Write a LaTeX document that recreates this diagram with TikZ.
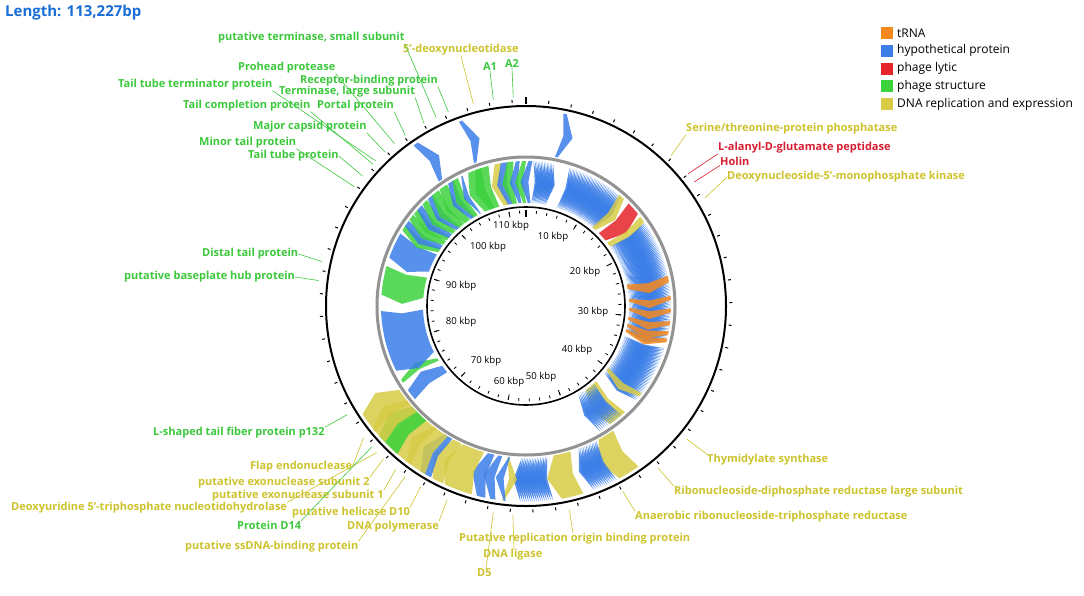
\documentclass[tikz,border=0pt]{standalone}
\usepackage{fontspec}
\setmainfont{Open Sans}
\definecolor{gblue}{RGB}{58,126,232}
\definecolor{ggreen}{RGB}{60,210,60}
\definecolor{gyellow}{RGB}{216,204,70}
\definecolor{gorange}{RGB}{245,137,31}
\definecolor{gred}{RGB}{230,36,42}
\definecolor{tgreen}{RGB}{60,200,60}
\definecolor{tyellow}{RGB}{205,195,45}
\definecolor{tred}{RGB}{215,30,50}
\definecolor{tblue}{RGB}{25,110,215}
\newcommand\gene[5]{%
 \pgfmathsetmacro\gT{#2}\pgfmathsetmacro\gH{#3}%
 \pgfmathsetmacro\gS{\gH>\gT ? 1 : -1}%
 \pgfmathsetmacro\gL{abs(\gH-\gT)}%
 \pgfmathsetmacro\gD{min(3.5,0.999*\gL)}%
 \pgfmathsetmacro\gN{0.4*min(3.5,\gL)}%
 \pgfmathsetmacro\gM{(#4+#5)/2}%
 \pgfmathsetmacro\aT{90-\gT}\pgfmathsetmacro\aH{90-\gH}%
 \pgfmathsetmacro\aN{90-\gT-\gS*\gN}\pgfmathsetmacro\aSh{90-\gH+\gS*\gD}%
 \fill[#1,fill opacity=0.85] (\aT:#5) -- (\aN:\gM) -- (\aT:#4) arc[start angle=\aT,end angle=\aSh,radius=#4] -- (\aH:\gM) -- (\aSh:#5) arc[start angle=\aSh,end angle=\aT,radius=#5] -- cycle;}
\newcommand\ig[3]{\gene{#1}{#2}{#3}{103}{145}}
\newcommand\og[3]{\gene{#1}{#2}{#3}{152}{196}}
\begin{document}
\begin{tikzpicture}[x=1pt,y=1pt,
  lab/.style={font=\fontsize{11}{12}\selectfont\bfseries, inner sep=0pt, anchor=west},
  gl/.style={lab, text=tgreen},
  yl/.style={lab, text=tyellow},
  rl/.style={lab, text=tred},
  gline/.style={draw=tgreen, line width=0.6pt},
  yline/.style={draw=tyellow, line width=0.6pt},
  rline/.style={draw=tred, line width=0.6pt},
  kbp/.style={font=\fontsize{9.6}{11}\selectfont, inner sep=0pt},
  legtext/.style={font=\fontsize{12}{13}\selectfont, inner sep=0pt, anchor=west},
  legbox/.style={minimum size=12pt, inner sep=0pt}]
\useasboundingbox (0,0) rectangle (1084,-595);
\fill[white] (0,0) rectangle (1084,-595);
\node[lab, font=\fontsize{15}{16}\selectfont\bfseries, text=tblue] (title) at (5,-13) {Length: 113,227bp};
% legend
\foreach \c/\t [count=\i] in {gorange/tRNA, gblue/hypothetical protein, gred/phage lytic, ggreen/phage structure, gyellow/DNA replication and expression}{
  \node[legbox, fill=\c] (lb\i) at (887,{-33-17.8*(\i-1)}) {};
  \node[legtext] (lt\i) at (897,{-33-17.8*(\i-1)}) {\t};
}
\begin{scope}[shift={(526,-306)}]
% ---------- inner track genes
\ig{gyellow}{-10}{-16}
\ig{gblue}{-7.5}{-13.5}
\ig{ggreen}{-5}{-11}
\ig{gblue}{-2.5}{-7.5}
\ig{ggreen}{0}{-5}
\ig{gblue}{2.5}{-2.5}
\foreach \x in {3,3.6,...,11.4}{\ig{gblue}{\x}{\x+2.6}}
\foreach \x in {17.5,18.1,...,41.5}{\ig{gblue}{\x}{\x+2.6}}
\ig{gyellow}{40}{46}
\ig{gred}{45}{54}
\ig{gyellow}{52}{58}
\foreach \x in {55,55.6,...,104.5}{\ig{gblue}{\x}{\x+2.6}}
\ig{gorange}{78}{84}
\ig{gorange}{86}{91}
\ig{gorange}{91}{96}
\ig{gorange}{96}{101}
\ig{gorange}{100}{105}
\ig{gorange}{103}{108}
\foreach \x in {107,107.6,...,131}{\ig{gblue}{\x}{\x+2.6}}
\ig{gyellow}{127}{132}
\ig{gyellow}{137}{148}
\foreach \x in {139,139.8,...,149.5}{\ig{gblue}{\x}{\x+2.6}}
% left side inner
\ig{gblue}{230}{238}
\ig{ggreen}{238}{243}
\ig{gblue}{268}{240}
\ig{ggreen}{286}{271}
\ig{gblue}{300}{286}
\ig{ggreen}{304}{298}
\ig{gblue}{306}{300}
\ig{ggreen}{309}{303}
\ig{ggreen}{312}{306}
\ig{gblue}{314}{308}
\ig{ggreen}{317}{311}
\ig{gblue}{320}{314}
\ig{ggreen}{323}{316}
\ig{ggreen}{327}{320}
\ig{gblue}{330}{324}
\ig{ggreen}{332}{326}
\ig{gblue}{334}{330}
\ig{ggreen}{342}{333}
\ig{ggreen}{345}{336}
% ---------- outer track genes
\og{gblue}{325}{330}
\og{gblue}{340}{344.5}
\og{gblue}{11}{15.5}
\og{gyellow}{145}{155}
\foreach \x in {152.5,153.1,...,160}{\og{gblue}{\x}{\x+2.6}}
\og{gyellow}{163}{173}
\foreach \x in {172,172.6,...,182}{\og{gblue}{\x}{\x+2.6}}
\og{gyellow}{187}{183}
\og{gblue}{186}{190}
\og{gblue}{189}{194}
\og{gblue}{192}{198}
\og{gyellow}{196}{208}
\og{gyellow}{205}{212}
\og{gblue}{209}{216}
\og{gyellow}{211}{221}
\og{gyellow}{216}{229}
\og{ggreen}{221}{232}
\og{gyellow}{226}{235}
\og{gyellow}{230}{240}
% ---------- circles
\draw[line width=1.6pt] (0,0) circle[radius=99];
\draw[gray!85, line width=3pt] (0,0) circle[radius=149];
\draw[line width=2pt] (0,0) circle[radius=200];
% outer ticks
\foreach \k in {1,...,56}{\draw[line width=1pt] ({90-\k*6.3589}:203.5) -- ({90-\k*6.3589}:206.5);}
\draw[line width=1.5pt] (90:202) -- (90:209);
% inner ticks
\foreach \k in {1,...,56}{\draw[line width=0.8pt] ({90-\k*6.3589}:95.5) -- ({90-\k*6.3589}:92.5);}
\foreach \k in {5,10,...,55}{\draw[line width=0.8pt] ({90-\k*6.3589}:95.5) -- ({90-\k*6.3589}:90);}
\draw[line width=1.5pt] (90:96) -- (90:89);
% ring end points for leader lines
\foreach \n/\t in {e1/334.5,e2/345.4,e3/351,e4/356.5,e5/321,e6/338.2,e7/314,e8/330.8,e9/312.8,e10/324.7,e11/317.5,e12/304.8,e13/308.5,
  e14/44,e15/50.8,e16/53.6,e17/58.9,e18/129.6,e19/140.8,e20/152.4,e21/168,e22/183.6,e23/189,e24/202.2,e25/210.2,e26/218.6,e27/223,
  e28/231,e29/225.5,e30/227.6,e31/215.3,e32/238.7,e33/282.3,e34/277}{\coordinate (\n) at ({90-\t}:209);}
\end{scope}
% kbp labels
\node[kbp] (k10) at (553,-237) {10 kbp};
\node[kbp] (k20) at (585,-272) {20 kbp};
\node[kbp] (k30) at (593,-312) {30 kbp};
\node[kbp] (k40) at (577,-350) {40 kbp};
\node[kbp] (k50) at (541,-377) {50 kbp};
\node[kbp] (k60) at (509,-382) {60 kbp};
\node[kbp] (k70) at (486,-361) {70 kbp};
\node[kbp] (k80) at (461,-322) {80 kbp};
\node[kbp] (k90) at (461,-286) {90 kbp};
\node[kbp] (k100) at (488,-247) {100 kbp};
\node[kbp] (k110) at (511,-226) {110 kbp};
% ---------- labels
\node[gl] (l1) at (218,-38) {putative terminase, small subunit};
\node[yl] (l2) at (403,-50) {5'-deoxynucleotidase};
\node[gl, anchor=center] (l3) at (490,-67) {A1};
\node[gl, anchor=center] (l4) at (512,-64) {A2};
\node[gl] (l5) at (238,-68) {Prohead protease};
\node[gl] (l6) at (300,-81) {Receptor-binding protein};
\node[gl] (l7) at (118,-85) {Tail tube terminator protein};
\node[gl] (l8) at (279,-92) {Terminase, large subunit};
\node[gl] (l9) at (183,-106) {Tail completion protein};
\node[gl] (l10) at (317,-106) {Portal protein};
\node[gl] (l11) at (253,-127) {Major capsid protein};
\node[gl] (l12) at (199,-143) {Minor tail protein};
\node[gl] (l13) at (248,-156) {Tail tube protein};
\node[yl] (l14) at (686,-129) {Serine/threonine-protein phosphatase};
\node[rl] (l15) at (718,-148) {L-alanyl-D-glutamate peptidase};
\node[rl] (l16) at (720,-161) {Holin};
\node[yl] (l17) at (727,-177) {Deoxynucleoside-5'-monophosphate kinase};
\node[yl] (l18) at (707,-460) {Thymidylate synthase};
\node[yl] (l19) at (674,-492) {Ribonucleoside-diphosphate reductase large subunit};
\node[yl] (l20) at (635,-517) {Anaerobic ribonucleoside-triphosphate reductase};
\node[yl] (l21) at (459,-539) {Putative replication origin binding protein};
\node[yl] (l22) at (483,-555) {DNA ligase};
\node[yl] (l23) at (477,-573) {D5};
\node[yl] (l24) at (347,-527) {DNA polymerase};
\node[yl] (l25) at (292,-513) {putative helicase D10};
\node[yl] (l26) at (212,-496) {putative exonuclease subunit 1};
\node[yl] (l27) at (198,-483) {putative exonuclease subunit 2};
\node[yl] (l28) at (250,-467) {Flap endonuclease};
\node[yl] (l29) at (11,-508) {Deoxyuridine 5'-triphosphate nucleotidohydrolase};
\node[gl] (l30) at (237,-525) {Protein D14};
\node[yl] (l31) at (185,-547) {putative ssDNA-binding protein};
\node[gl] (l32) at (153,-433) {L-shaped tail fiber protein p132};
\node[gl] (l33) at (202,-254) {Distal tail protein};
\node[gl] (l34) at (124,-277) {putative baseplate hub protein};
% ---------- leader lines
\draw[gline] (l1.south east) -- (e1);
\draw[yline] (l2.south) -- (e2);
\draw[gline] (l3.south) -- (e3);
\draw[gline] (l4.south) -- (e4);
\draw[gline] (l5.south east) -- (e5);
\draw[gline] (l6.south east) -- (e6);
\draw[gline] (l7.south east) -- (e7);
\draw[gline] (l8.south east) -- (e8);
\draw[gline] (l9.south east) -- (e9);
\draw[gline] (l10.south east) -- (e10);
\draw[gline] (l11.south east) -- (e11);
\draw[gline] (l12.south east) -- (e12);
\draw[gline] (l13.east) -- (e13);
\draw[yline] (l14.south west) -- (e14);
\draw[rline] (l15.south west) -- (e15);
\draw[rline] (l16.south west) -- (e16);
\draw[yline] (l17.west) -- (e17);
\draw[yline] (l18.north west) -- (e18);
\draw[yline] (l19.north west) -- (e19);
\draw[yline] (l20.north west) -- (e20);
\draw[yline] ([xshift=114pt]l21.north west) -- (e21);
\draw[yline] ([xshift=31pt]l22.north west) -- (e22);
\draw[yline] ([xshift=9pt]l23.north west) -- (e23);
\draw[yline] (l24.north east) -- (e24);
\draw[yline] (l25.north east) -- (e25);
\draw[yline] (l26.north east) -- (e26);
\draw[yline] (l27.north east) -- (e27);
\draw[yline] (l28.east) -- (e28);
\draw[yline] (l29.north east) -- (e29);
\draw[gline] (l30.north east) -- (e30);
\draw[yline] (l31.north east) -- (e31);
\draw[gline] (l32.north east) -- (e32);
\draw[gline] (l33.east) -- (e33);
\draw[gline] (l34.east) -- (e34);
\end{tikzpicture}
\end{document}
